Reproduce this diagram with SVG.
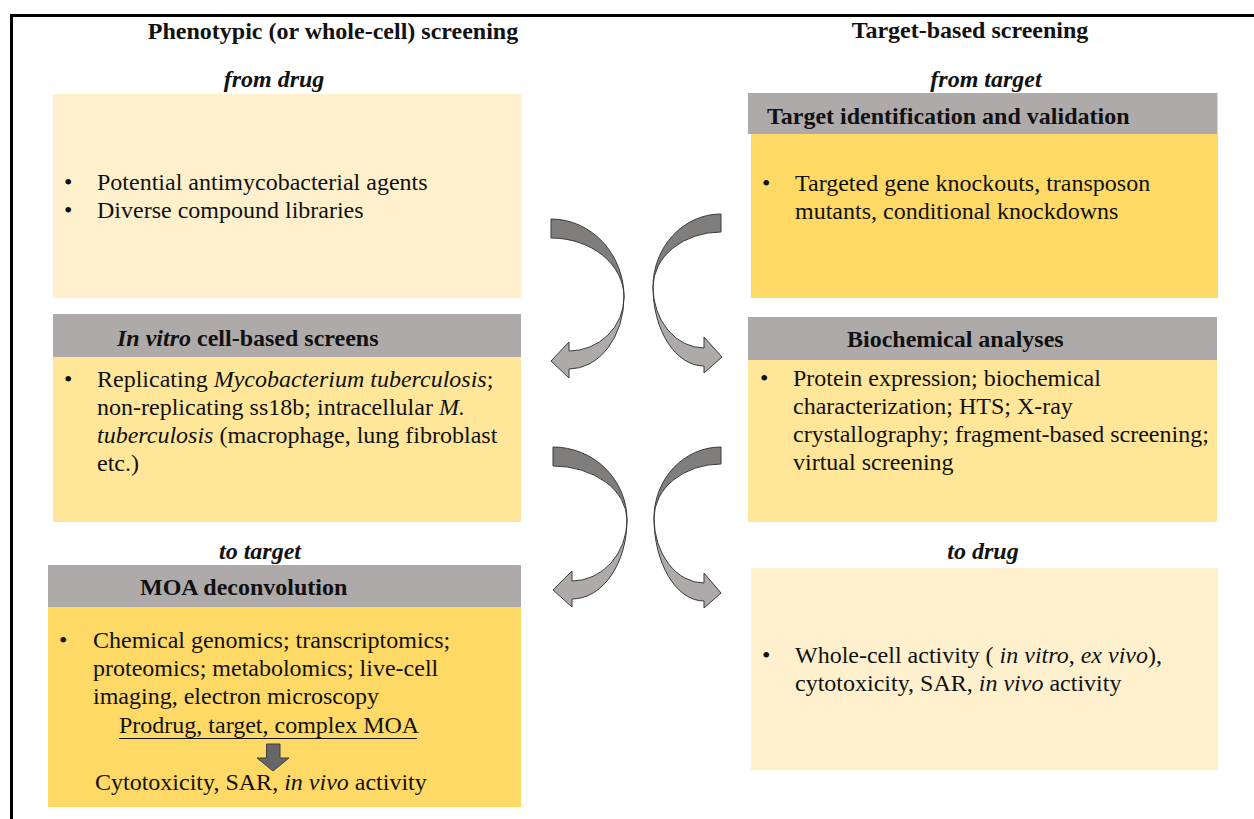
<svg xmlns="http://www.w3.org/2000/svg" width="1254" height="819" viewBox="0 0 1254 819">
<style>
text{font-family:"Liberation Serif","Times New Roman",serif;fill:#111;font-size:24px}
.b{font-weight:bold}
.bi{font-weight:bold;font-style:italic}
.i{font-style:italic}
.m{text-anchor:middle}
.hd{fill:#AEAAAA}
.pale{fill:#FEF0CD}
.mid{fill:#FFE699}
.deep{fill:#FFD966}
.dk{fill:#807D7D;stroke:#3A3A3A;stroke-width:1}
.lt{fill:#AEAAAA;stroke:#3A3A3A;stroke-width:1}
</style>
<rect width="1254" height="819" fill="#fff"/>
<path d="M11.5,819 V15.5 H1254" fill="none" stroke="#000" stroke-width="3"/>
<g id="titles">
<text class="b m" x="333" y="39" font-size="23">Phenotypic (or whole-cell) screening</text>
<text class="b m" x="970" y="38" font-size="23">Target-based screening</text>
<text class="bi m" x="274" y="87">from drug</text>
<text class="bi m" x="986" y="87">from target</text>
<text class="bi m" x="260" y="559">to target</text>
<text class="bi m" x="983" y="559">to drug</text>
</g>
<g id="from-drug">
<rect class="pale" x="53" y="94" width="468" height="204"/>
<text x="64" y="190">•</text><text x="97" y="190">Potential antimycobacterial agents</text>
<text x="64" y="218">•</text><text x="97" y="218">Diverse compound libraries</text>
</g>
<g id="in-vitro">
<rect class="mid" x="53" y="314" width="468" height="208"/>
<rect class="hd" x="53" y="314" width="468" height="43"/>
<text class="b" x="117" y="346"><tspan class="bi">In vitro</tspan> cell-based screens</text>
<text x="64" y="387">•</text>
<text x="97" y="387">Replicating <tspan class="i">Mycobacterium tuberculosis</tspan>;</text>
<text x="97" y="415">non-replicating ss18b; intracellular <tspan class="i">M.</tspan></text>
<text x="97" y="443"><tspan class="i">tuberculosis</tspan> (macrophage, lung fibroblast</text>
<text x="97" y="471">etc.)</text>
</g>
<g id="moa">
<rect class="deep" x="48" y="565" width="473" height="242"/>
<rect class="hd" x="48" y="565" width="473" height="42"/>
<text class="b" x="140" y="595">MOA deconvolution</text>
<text x="59" y="648">•</text>
<text x="93" y="648">Chemical genomics; transcriptomics;</text>
<text x="93" y="676">proteomics; metabolomics; live-cell</text>
<text x="93" y="704">imaging, electron microscopy</text>
<text x="119" y="733">Prodrug, target, complex MOA</text>
<line x1="119" y1="738.5" x2="417" y2="738.5" stroke="#111" stroke-width="1.2"/>
<path d="M266.5,744 H280 V758 H289 L273,771 L257,758 H266.5 Z" fill="#666" stroke="#404040" stroke-width="1"/>
<text x="95" y="790">Cytotoxicity, SAR, <tspan class="i">in vivo</tspan> activity</text>
</g>
<g id="target-id">
<rect class="deep" x="751" y="93" width="467" height="205"/>
<rect class="hd" x="748" y="93" width="469" height="41"/>
<text class="b" x="767" y="124">Target identification and validation</text>
<text x="762" y="191">•</text>
<text x="795" y="191">Targeted gene knockouts, transposon</text>
<text x="795" y="219">mutants, conditional knockdowns</text>
</g>
<g id="biochemical">
<rect class="mid" x="748" y="317" width="469" height="205"/>
<rect class="hd" x="748" y="317" width="469" height="43"/>
<text class="b" x="847" y="347">Biochemical analyses</text>
<text x="760" y="386">•</text>
<text x="793" y="386">Protein expression; biochemical</text>
<text x="793" y="414">characterization; HTS; X-ray</text>
<text x="793" y="442">crystallography; fragment-based screening;</text>
<text x="793" y="470">virtual screening</text>
</g>
<g id="to-drug">
<rect class="pale" x="751" y="568" width="467" height="202"/>
<text x="762" y="663">•</text>
<text x="795" y="663">Whole-cell activity ( <tspan class="i">in vitro</tspan>, <tspan class="i">ex vivo</tspan>),</text>
<text x="795" y="691">cytotoxicity, SAR, <tspan class="i">in vivo</tspan> activity</text>
</g>
<g id="connectors">
<path class="dk" d="M551,219 A73,78 0 0 1 624,297 A73,59 0 0 0 551,238 Z"/>
<path class="lt" d="M624,297 A55,72 0 0 1 569,369 L569,378 L551,361 L569,342 L569,351 A55,54 0 0 0 624,297 Z"/>
<path class="dk" d="M721,214 A68,73 0 0 0 653,287 A68,55 0 0 1 721,232 Z"/>
<path class="lt" d="M653,287 A51,79 0 0 0 704,366 L704,373 L722,357 L704,337 L704,348 A51,61 0 0 1 653,287 Z"/>
<path class="dk" d="M553,447 A74,73 0 0 1 627,520 A74,54 0 0 0 553,466 Z"/>
<path class="lt" d="M627,520 A55,79 0 0 1 572,599 L572,607 L553,590 L572,571 L572,581 A55,61 0 0 0 627,520 Z"/>
<path class="dk" d="M721,447 A67,71 0 0 0 654,518 A67,54 0 0 1 721,464 Z"/>
<path class="lt" d="M654,518 A50,83 0 0 0 704,601 L704,608 L721,593 L704,573 L704,583 A50,65 0 0 1 654,518 Z"/>
</g>
</svg>
